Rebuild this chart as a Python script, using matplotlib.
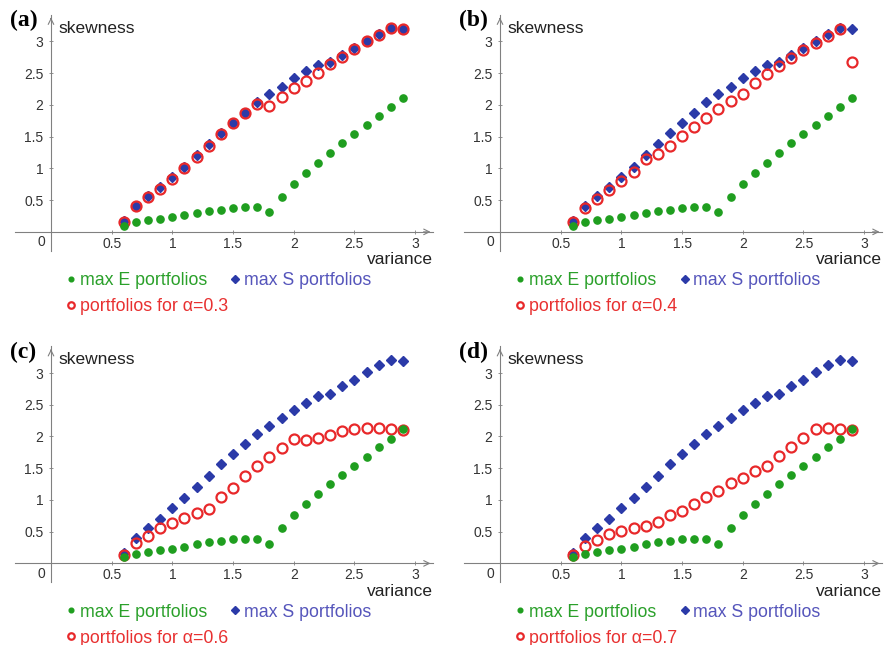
import matplotlib.pyplot as plt

plt.rcParams['font.family'] = ['Liberation Sans', 'DejaVu Sans']

# variance grid shared by all series
variance = [0.6, 0.7, 0.8, 0.9, 1.0, 1.1, 1.2, 1.3, 1.4, 1.5, 1.6, 1.7,
            1.8, 1.9, 2.0, 2.1, 2.2, 2.3, 2.4, 2.5, 2.6, 2.7, 2.8, 2.9]

max_e = [0.10, 0.15, 0.18, 0.21, 0.23, 0.26, 0.30, 0.33, 0.35, 0.38, 0.39, 0.39,
         0.31, 0.55, 0.76, 0.93, 1.09, 1.25, 1.40, 1.54, 1.68, 1.83, 1.96, 2.11]

max_s = [0.17, 0.40, 0.56, 0.70, 0.87, 1.03, 1.21, 1.38, 1.56, 1.72, 1.88, 2.04,
         2.17, 2.29, 2.42, 2.53, 2.63, 2.67, 2.79, 2.89, 3.01, 3.12, 3.21, 3.19]

alpha_03 = [0.16, 0.40, 0.55, 0.68, 0.83, 1.01, 1.18, 1.36, 1.54, 1.71, 1.87, 2.02,
            1.99, 2.13, 2.26, 2.38, 2.51, 2.65, 2.76, 2.88, 3.00, 3.11, 3.21, 3.19]
alpha_04 = [0.16, 0.38, 0.52, 0.66, 0.80, 0.95, 1.15, 1.22, 1.36, 1.51, 1.65, 1.79,
            1.93, 2.06, 2.18, 2.35, 2.49, 2.61, 2.74, 2.87, 2.98, 3.09, 3.20, 2.68]
alpha_06 = [0.14, 0.32, 0.43, 0.55, 0.63, 0.72, 0.79, 0.86, 1.04, 1.19, 1.37, 1.53,
            1.68, 1.82, 1.96, 1.95, 1.98, 2.03, 2.08, 2.12, 2.14, 2.14, 2.12, 2.10]
alpha_07 = [0.13, 0.28, 0.37, 0.46, 0.51, 0.55, 0.59, 0.66, 0.76, 0.82, 0.93, 1.04,
            1.14, 1.26, 1.35, 1.46, 1.54, 1.69, 1.84, 1.98, 2.12, 2.14, 2.12, 2.10]

panels = ['(a)', '(b)', '(c)', '(d)']
alphas = ['0.3', '0.4', '0.6', '0.7']
alpha_series = [alpha_03, alpha_04, alpha_06, alpha_07]

xticks = [0.5, 1, 1.5, 2, 2.5, 3]
yticks = [0.5, 1, 1.5, 2, 2.5, 3]

green = '#1f9e1f'
blue = '#2b3aa8'
red = '#e8282a'
axcol = '#808080'

fig = plt.figure(figsize=(8.89, 6.45), dpi=100)

# axes boxes in figure fractions
boxes = [(0.0164, 0.611), (0.5215, 0.611), (0.0164, 0.097), (0.5215, 0.097)]
w, h = 0.471, 0.366

for i in range(4):
    ax = fig.add_axes([boxes[i][0], boxes[i][1], w, h])
    ax.set_xlim(-0.3, 3.15)
    ax.set_ylim(-0.3, 3.42)

    for s in ['top', 'right']:
        ax.spines[s].set_visible(False)
    for s in ['left', 'bottom']:
        ax.spines[s].set_position(('data', 0))
        ax.spines[s].set_color(axcol)
        ax.spines[s].set_linewidth(0.8)
    # arrow heads
    ax.annotate('', xy=(1.0, 0), xycoords=ax.get_yaxis_transform(),
                xytext=(0.97, 0), arrowprops=dict(arrowstyle='->', color=axcol, lw=0.8))
    ax.annotate('', xy=(0, 1.0), xycoords=ax.get_xaxis_transform(),
                xytext=(0, 0.97), arrowprops=dict(arrowstyle='->', color=axcol, lw=0.8))

    ax.set_xticks(xticks)
    ax.set_xticklabels([f'{t:g}' for t in xticks])
    ax.set_yticks(yticks)
    ax.set_yticklabels([f'{t:g}' for t in yticks])
    ax.tick_params(direction='inout', length=3, width=0.6, color=axcol,
                   labelsize=10, labelcolor='#333333')
    ax.tick_params(axis='x', pad=2)
    ax.tick_params(axis='y', pad=4)

    hs, = ax.plot(variance, max_s, 'D', color=blue, ms=5.6, mec=blue,
                  clip_on=False, zorder=3)
    ha, = ax.plot(variance, alpha_series[i], 'o', mfc='none', mec=red, mew=1.6,
                  ms=7.2, clip_on=False, zorder=4)
    he, = ax.plot(variance, max_e, 'o', color=green, ms=5.2, clip_on=False, zorder=5)

    ax.text(-0.08, -0.16, '0', ha='center', va='center', fontsize=10, color='#333333')
    ax.text(0.06, 3.21, 'skewness', ha='left', va='center', fontsize=12.5, color='#222222')
    ax.text(3.15, -0.44, 'variance', ha='right', va='center', fontsize=12.5,
            color='#222222', clip_on=False)
    ax.text(-0.34, 3.33, panels[i], ha='left', va='center', fontsize=17,
            fontweight='bold', family='Liberation Serif', clip_on=False)

    ax.legend([he, ha, hs],
              ['max E portfolios', 'portfolios for \u03b1=' + alphas[i], 'max S portfolios'],
              ncol=2, loc='upper left', bbox_to_anchor=(0.125, -0.09),
              frameon=False, fontsize=12.8, markerscale=0.65,
              handlelength=0.5, handletextpad=0.25, columnspacing=0.15,
              labelspacing=0.5, borderpad=0, borderaxespad=0,
              labelcolor=['#2aa02a', '#e83030', '#5555bb'])

fig.savefig('out.png', dpi=100)
